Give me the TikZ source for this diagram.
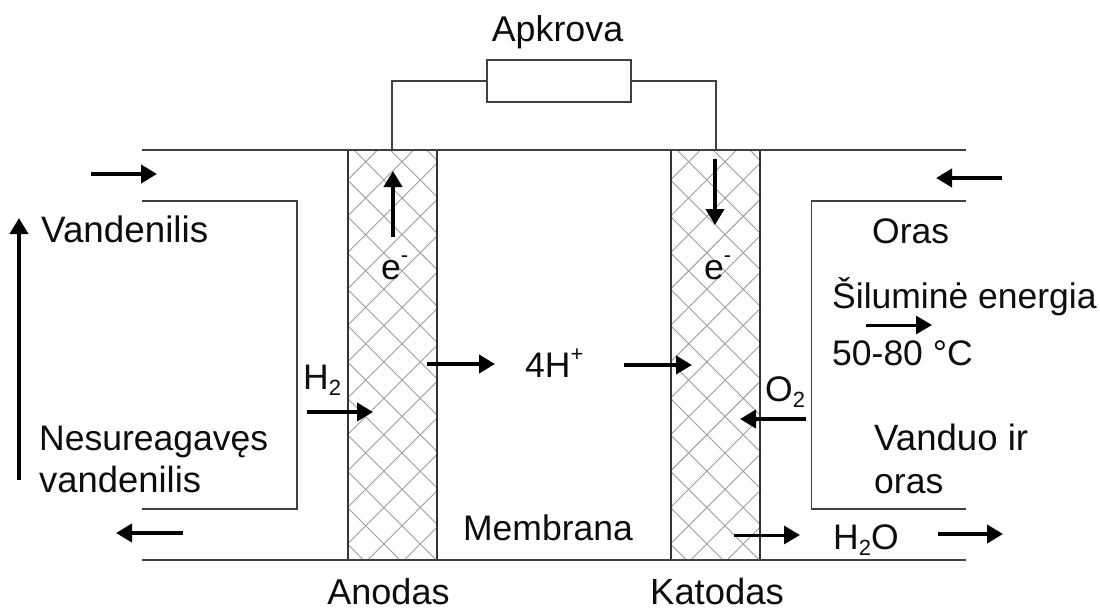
\documentclass[tikz,border=0pt]{standalone}
\usepackage{fontspec}
\setmainfont{Liberation Sans}
\usetikzlibrary{arrows.meta}
\newcommand{\supmark}[2]{\raisebox{#1pt}{\fontsize{22}{22}\selectfont #2}}
\newcommand{\submark}[1]{\raisebox{-6.5pt}{\fontsize{22}{22}\selectfont #1}}
\tikzset{
  wire/.style={draw=black!75,line width=1.1pt},
  plate/.style={draw=black!80,line width=1.3pt},
  hatchline/.style={draw=black!38,line width=0.9pt},
  flow/.style={draw=black,line width=4.5pt,-{Triangle[length=16pt,width=18pt]}},
  thinflow/.style={draw=black,line width=3pt,-{Triangle[length=16pt,width=18pt]}},
  lbl/.style={inner sep=0pt,font=\fontsize{#1}{40}\selectfont,text=black!95},
  lbl/.default=35.5
}
\begin{document}
\begin{tikzpicture}[x=1pt,y=-1pt]
\useasboundingbox (0,0) rectangle (1100,608);
\fill[white] (0,0) rectangle (1100,608);
% hatching
\foreach \xa/\xb in {348/437,671/761}{
  \begin{scope}
    \clip (\xa,150) rectangle (\xb,560);
    \foreach \k in {-20,...,30}{
      \draw[hatchline] (\xa+\k*36.4-30.5,150) -- ++(450,450);
      \draw[hatchline] (\xa+\k*36.4-7,150) -- ++(-450,450);
    }
  \end{scope}
}
% nodes for plates and load
\node[plate,minimum width=89pt,minimum height=410pt,inner sep=0pt] (anode) at (392.5,355) {};
\node[plate,minimum width=89pt,minimum height=410pt,inner sep=0pt] (cathode) at (715.5,355) {};
\node[wire,fill=white,minimum width=144pt,minimum height=42pt,inner sep=0pt] (load) at (559,81) {};
% channel
\coordinate (tl) at (142,150); \coordinate (tr) at (966,150);
\coordinate (bl) at (142,560); \coordinate (br) at (966,560);
\draw[wire] (tl) -- (tr);
\draw[wire] (bl) -- (br);
\coordinate (la) at (142,201); \coordinate (lb) at (297,201);
\coordinate (lc) at (297,509); \coordinate (ld) at (142,509);
\draw[wire] (la) -- (lb) -- (lc) -- (ld);
\coordinate (ra) at (966,201); \coordinate (rb) at (811.5,201);
\coordinate (rc) at (811.5,509); \coordinate (rd) at (966,509);
\draw[wire] (ra) -- (rb) -- (rc) -- (rd);
% load wires
\coordinate (wa) at (392,150); \coordinate (wb) at (716,150);
\draw[wire] (wa) |- (load.west);
\draw[wire] (wb) |- (load.east);
% arrows
\coordinate (a1s) at (91,174);   \coordinate (a1e) at (157,174);
\coordinate (a2s) at (19,480);   \coordinate (a2e) at (19,218);
\coordinate (a3s) at (1002,178); \coordinate (a3e) at (936,178);
\coordinate (a4s) at (183,533);  \coordinate (a4e) at (116,533);
\coordinate (a5s) at (393,237);  \coordinate (a5e) at (393,171);
\coordinate (a6s) at (715,159);  \coordinate (a6e) at (715,225);
\coordinate (a7s) at (427,364);  \coordinate (a7e) at (495,364);
\coordinate (a8s) at (624,365);  \coordinate (a8e) at (692,365);
\coordinate (a9s) at (307,412);  \coordinate (a9e) at (373,412);
\coordinate (a10s) at (806,419); \coordinate (a10e) at (740,419);
\coordinate (a11s) at (866,325); \coordinate (a11e) at (932,325);
\coordinate (a12s) at (734,535); \coordinate (a12e) at (800,535);
\coordinate (a13s) at (938,534); \coordinate (a13e) at (1003,534);
\foreach \i in {1,2,3,4,5,6,7,8,9,10,13}{\draw[flow] (a\i s) -- (a\i e);}
\draw[thinflow] (a11s) -- (a11e);
\draw[thinflow] (a12s) -- (a12e);
% labels
\node[lbl=35.8,anchor=base] (t1) at (557.5,41) {Apkrova};
\node[lbl=36.8,anchor=base west] (t2) at (41,242) {Vandenilis};
\node[lbl,anchor=base west] (t3) at (872,243) {Oras};
\node[lbl,anchor=base west] (t4) at (832,308) {Šiluminė energia};
\node[lbl,anchor=base west] (t5) at (832,365) {50-80 °C};
\node[lbl,anchor=base west] (t6) at (303,389) {H\submark{2}};
\node[lbl,anchor=base west] (t7) at (525,377) {4H\supmark{16}{+}};
\node[lbl,anchor=base west] (t8) at (765,401) {O\submark{2}};
\node[lbl,anchor=base west] (t9) at (39,450) {Nesureagavęs};
\node[lbl=36.4,anchor=base west] (t10) at (39,492.5) {vandenilis};
\node[lbl=36.6,anchor=base west] (t11) at (874,450) {Vanduo ir};
\node[lbl,anchor=base west] (t12) at (874,493) {oras};
\node[lbl,anchor=base] (t13) at (548,540) {Membrana};
\node[lbl,anchor=base west] (t14) at (833,549) {H\submark{2}O};
\node[lbl=36,anchor=base] (t15) at (388.5,604) {Anodas};
\node[lbl=36.4,anchor=base] (t16) at (717,604) {Katodas};
\node[lbl,anchor=base west] (t17) at (381,279) {e\supmark{17}{-}};
\node[lbl,anchor=base west] (t18) at (704,279) {e\supmark{17}{-}};
\end{tikzpicture}
\end{document}
